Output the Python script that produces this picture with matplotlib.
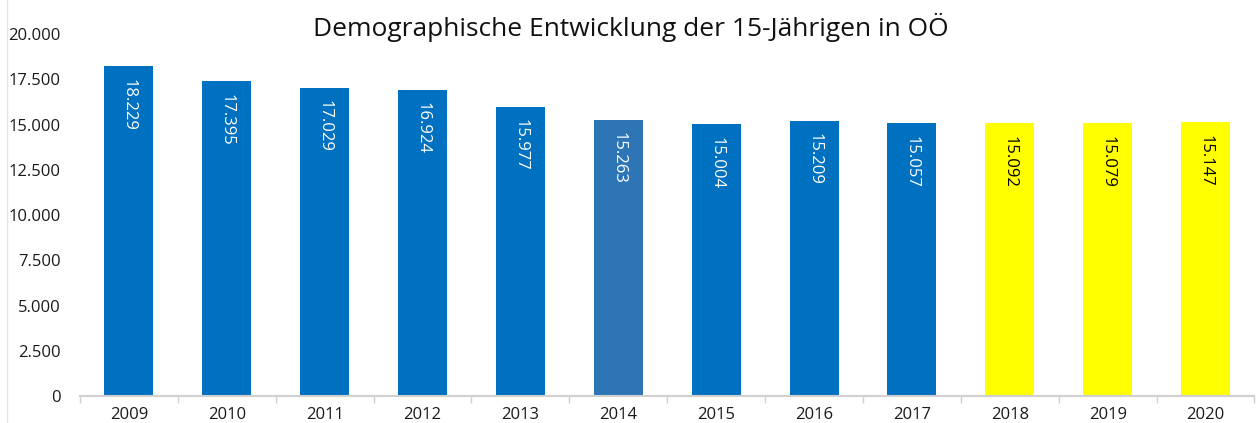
import matplotlib.pyplot as plt
import matplotlib.ticker as mticker
from matplotlib.lines import Line2D
import numpy as np

years = ["2009", "2010", "2011", "2012", "2013", "2014",
         "2015", "2016", "2017", "2018", "2019", "2020"]
counts = [18229, 17395, 17029, 16924, 15977, 15263,
          15004, 15209, 15057, 15092, 15079, 15147]
bar_colors = ["#0070C0"] * 5 + ["#2E75B6"] + ["#0070C0"] * 3 + ["#FFFF00"] * 3
label_colors = ["white"] * 9 + ["black"] * 3

plt.rcParams['font.family'] = ['Open Sans', 'DejaVu Sans']

fig = plt.figure(figsize=(12.57, 4.23), dpi=100)
ax = fig.add_axes([0.0636, 0.0638, 0.9344, 0.8558])

x = np.arange(len(years))
bars = ax.bar(x, counts, width=0.5, color=bar_colors)

def de_fmt(v, pos=None):
    return f"{int(v):,}".replace(",", ".")

for b, v, c in zip(bars, counts, label_colors):
    ax.text(b.get_x() + b.get_width() / 2, v - 700, de_fmt(v),
            rotation=270, ha="center", va="top", color=c, fontsize=12)

ax.set_xlim(-0.5, len(years) - 0.5)
ax.set_ylim(0, 20000)
ax.set_yticks(np.arange(0, 20001, 2500))
ax.yaxis.set_major_formatter(mticker.FuncFormatter(de_fmt))
ax.set_xticks(x)
ax.set_xticklabels(years)
ax.set_xticks(np.arange(-0.5, len(years), 1), minor=True)

for s in ["top", "right", "left"]:
    ax.spines[s].set_visible(False)
ax.spines["bottom"].set_color("#D0D0D0")
ax.spines["bottom"].set_linewidth(1.5)
ax.tick_params(axis="y", length=0, labelsize=12, pad=14, labelcolor="#1a1a1a")
ax.tick_params(axis="x", which="major", length=0, labelsize=12, pad=8, labelcolor="#1a1a1a")
ax.tick_params(axis="x", which="minor", length=5, color="#D0D0D0", width=1)

fig.text(0.502, 0.935, "Demographische Entwicklung der 15-Jährigen in OÖ",
         ha="center", va="center", fontsize=19, color="#111111")
fig.add_artist(Line2D([0.0056, 0.0056], [0, 1], color="#E6E6E6", lw=1))

fig.savefig("out.png", dpi=100)
